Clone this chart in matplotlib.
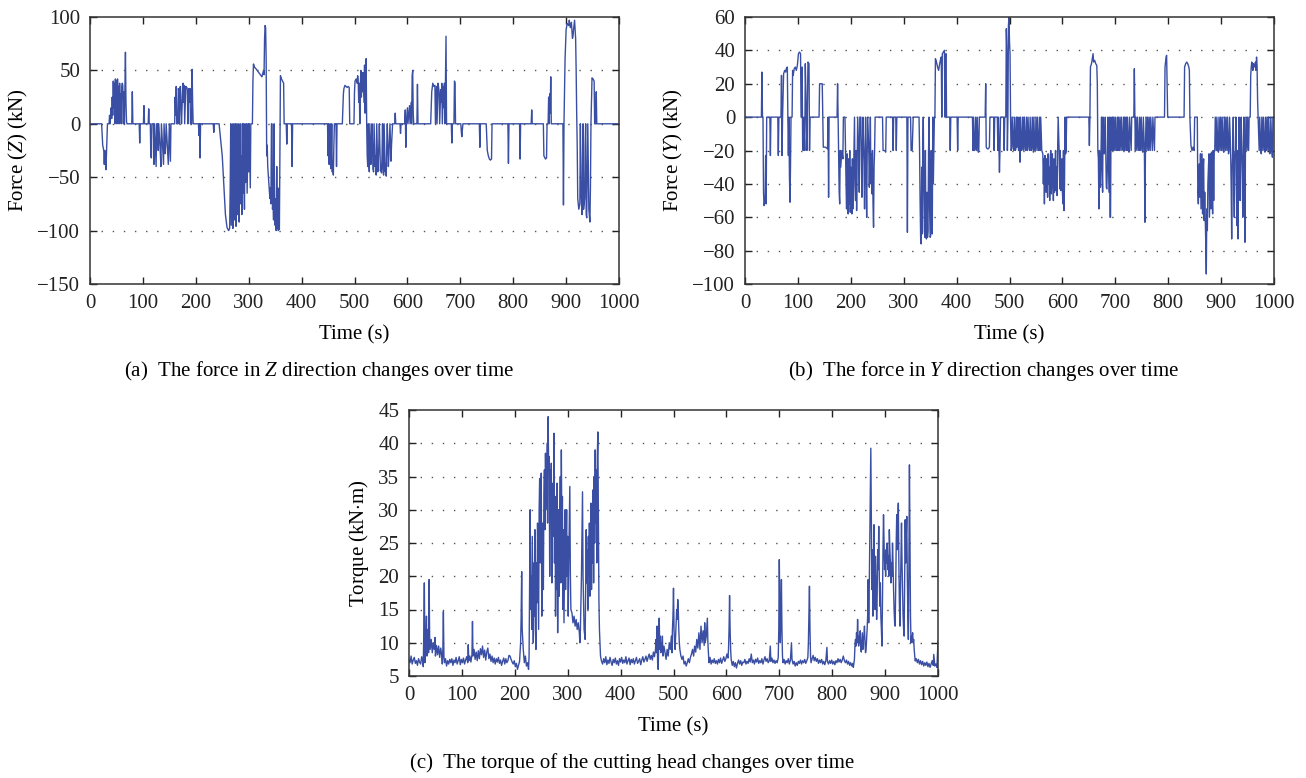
import numpy as np
import matplotlib
matplotlib.use("Agg")
import matplotlib.pyplot as plt

# force in Z direction (time s, kN)
force_z = [
    (0, 0), (22, 0), (24, -20), (26, -25), (27, -38), (28, -25), (30, -43), (31, -30), (33, 0), (36, 0),
    (37, 8), (38, 0), (40, 15), (41, 5), (42, 25), (43, 8), (44, 40), (45, 15), (46, 38), (47, 0),
    (48, 42), (49, 20), (50, 40), (51, 0), (52, 42), (53, 25), (54, 35), (55, 0), (56, 38), (57, 15),
    (58, 28), (59, 0), (60, 35), (61, 38), (62, 36), (63, 0), (64, 30), (65, 0), (66, 35), (67, 67),
    (68, 20), (69, 2), (70, 0), (79, 0), (80, 30), (81, 0), (93, 0), (94, -18), (95, 0), (101, 0),
    (102, 17), (103, 0), (110, 0), (111, 14), (112, 0), (114, 0), (115, -30), (116, -32), (117, 0), (120, 0),
    (121, -38), (122, 0), (125, -40), (126, 0), (128, 0), (129, -25), (130, 0), (133, -28), (134, -40), (135, 0),
    (138, -30), (139, -38), (140, 0), (142, -28), (143, -20), (144, 0), (147, -30), (148, -38), (149, -20), (150, 0),
    (152, -35), (153, 0), (160, 0), (161, 25), (162, 8), (163, 35), (164, 0), (166, 0), (167, 33), (168, 30),
    (169, 0), (170, 34), (171, 35), (172, 15), (173, 0), (175, 30), (176, 38), (177, 20), (178, 36), (179, 0),
    (181, 35), (183, 34), (184, 32), (185, 0), (186, 30), (187, 33), (188, 20), (189, 33), (190, 0), (192, 0),
    (193, 51), (194, 20), (195, 0), (205, 0), (206, -11), (207, 0), (208, -32), (209, 0), (233, 0), (234, -8),
    (235, 0), (244, 0), (250, -30), (256, -85), (259, -97), (262, -100), (264, -98), (265, -60), (266, 0), (267, -95),
    (268, -50), (269, 0), (270, -98), (271, -20), (272, 0), (273, -90), (274, -60), (275, 0), (276, -96), (277, -30),
    (278, 0), (279, -85), (280, -40), (281, 0), (282, -92), (283, -10), (284, 0), (285, -75), (286, -30), (287, -85),
    (288, 0), (289, -65), (290, 0), (291, -50), (292, -80), (293, 0), (294, -55), (295, -20), (296, 0), (297, -65),
    (298, -30), (299, 0), (300, -45), (301, 0), (303, -60), (304, 0), (307, 0), (308, 40), (309, 56), (311, 53),
    (313, 52), (316, 50), (319, 48), (322, 46), (325, 44), (327, 48), (328, 50), (329, 46), (330, 80), (331, 92),
    (332, 90), (333, 60), (334, -30), (335, -20), (336, -40), (338, -55), (340, -70), (341, -60), (342, -75), (343, 0),
    (344, 0), (345, -80), (346, -70), (347, -90), (348, 0), (349, -85), (350, -95), (351, -70), (352, -100), (353, -40),
    (354, -98), (355, -60), (356, -100), (357, -90), (358, -99), (359, -30), (360, 45), (362, 42), (364, 40), (366, 38),
    (367, 0), (371, 0), (372, -19), (373, 0), (381, 0), (382, -40), (383, 0), (449, 0), (450, -30), (451, 0),
    (452, -38), (453, -25), (454, 0), (455, -42), (456, -30), (457, 0), (458, -45), (459, -35), (460, -48), (461, -20),
    (462, 0), (465, 0), (466, -40), (467, 0), (477, 0), (479, 28), (480, 33), (482, 36), (484, 35), (486, 34),
    (488, 35), (490, 34), (491, 0), (499, 0), (500, 30), (501, 40), (503, 42), (505, 38), (506, 45), (507, 40),
    (508, 20), (509, 38), (510, 0), (511, 35), (512, 50), (513, 25), (514, 45), (515, 30), (516, 48), (517, 35),
    (518, 20), (519, 55), (520, 10), (521, 40), (522, 61), (523, 0), (524, -30), (525, -40), (526, 0), (527, -35),
    (528, -45), (529, 0), (531, -38), (532, -15), (533, 0), (535, -42), (536, -45), (537, 0), (539, -40), (540, -30),
    (541, -48), (542, 0), (544, -45), (545, -35), (546, -20), (547, 0), (549, -44), (550, -40), (551, -46), (552, -30),
    (553, 0), (554, -42), (555, -48), (556, 0), (558, -45), (559, -38), (560, -49), (561, -20), (562, 0), (564, -40),
    (565, -30), (566, -15), (567, 0), (569, -35), (570, -20), (571, -10), (572, 0), (576, 0), (577, 10), (578, 0),
    (586, 0), (587, -9), (588, 0), (595, 0), (596, 13), (597, -22), (598, 0), (600, 15), (601, 0), (604, 17),
    (605, 0), (607, 20), (608, 0), (609, 45), (610, 50), (611, 10), (612, 0), (618, 0), (619, 37), (620, 0),
    (644, 0), (646, 30), (648, 38), (650, 35), (652, 36), (653, 0), (655, 35), (656, 0), (658, 38), (660, 30),
    (661, 0), (663, 32), (664, 20), (665, 38), (666, 0), (668, 35), (669, 15), (670, 38), (671, 0), (672, 45),
    (673, 82), (674, 0), (683, 0), (684, -18), (685, 0), (688, 0), (689, 40), (690, 38), (691, 0), (701, 0),
    (702, -8), (703, -12), (704, -5), (705, 0), (736, 0), (737, -22), (738, 0), (749, 0), (751, -25), (753, -30),
    (755, -33), (757, -34), (759, -33), (760, 0), (790, 0), (791, -37), (792, 0), (812, 0), (813, -33), (814, 0),
    (834, 0), (835, 13), (836, 0), (857, 0), (858, -30), (861, -33), (863, -32), (864, 0), (866, 0), (867, 25),
    (868, 0), (869, 28), (870, 10), (871, 44), (872, 0), (894, 0), (895, -76), (896, 0), (898, 60), (900, 88),
    (902, 94), (905, 92), (906, 97), (908, 90), (910, 95), (912, 80), (913, 82), (914, 88), (916, 97), (918, 80),
    (919, 50), (920, 10), (921, -20), (922, -70), (924, -80), (926, -75), (927, 0), (928, -60), (930, -85), (931, -30),
    (932, 0), (933, -80), (935, -70), (936, -20), (937, 0), (938, -85), (939, -88), (940, -40), (941, 0), (943, -80),
    (945, -92), (946, -60), (947, 0), (949, 43), (951, 42), (953, 40), (954, 0), (956, 0), (957, 30), (958, 0),
    (1000, 0),
]

# force in Y direction (time s, kN)
force_y = [
    (0, 0), (31, 0), (32, 27), (33, 0), (34, 0), (35, -45), (36, -53), (38, -50), (39, -23), (40, -52),
    (41, 0), (47, 0), (48, -23), (49, 0), (62, 0), (63, -23), (64, 0), (68, 0), (69, 25), (70, -23),
    (71, 0), (73, 26), (75, 28), (77, 27), (78, 29), (80, 30), (81, 0), (82, -23), (83, 0), (84, -35),
    (85, -51), (86, -30), (87, 0), (89, 0), (90, 28), (91, 25), (93, 29), (95, 30), (97, 28), (99, 31),
    (101, 38), (103, 39), (105, 38), (106, 0), (108, 30), (109, -19), (110, -20), (111, 0), (113, -20), (114, 32),
    (116, 0), (117, -20), (119, 33), (121, 32), (122, -20), (123, 0), (140, 0), (141, 20), (143, 20), (146, 20),
    (147, 0), (148, -18), (152, -18), (156, -19), (157, 0), (158, -48), (159, 0), (174, 0), (175, 20), (176, 0),
    (178, -45), (179, -52), (180, -20), (181, -30), (183, -20), (185, -25), (186, 0), (189, 0), (190, -21), (191, -40),
    (192, -55), (193, -22), (194, -45), (195, -58), (196, -25), (197, -52), (198, -20), (199, -57), (200, -30), (201, -46),
    (202, -58), (203, -25), (204, -55), (205, -40), (206, -20), (207, 0), (208, -42), (209, -50), (210, -20), (211, -56),
    (212, -25), (213, 0), (215, -22), (216, -45), (217, 0), (219, 0), (220, -22), (221, -48), (222, -20), (223, 0),
    (225, -30), (226, -55), (227, -20), (228, 0), (229, -38), (230, -60), (231, -22), (232, 0), (234, -20), (235, -42),
    (236, -25), (237, 0), (238, -40), (239, -22), (240, -46), (241, -20), (242, -52), (243, -66), (244, -30), (245, -20),
    (246, 0), (260, 0), (261, -20), (264, -20), (266, -21), (267, 0), (279, 0), (280, -20), (281, 0), (285, 0),
    (286, -20), (287, 0), (306, 0), (307, -69), (308, 0), (313, 0), (314, -20), (316, -20), (318, 0), (329, 0),
    (330, -20), (331, -50), (332, -72), (333, -76), (334, -30), (335, -70), (336, -20), (337, 0), (338, -40), (339, -68),
    (340, -72), (341, -20), (342, -71), (343, -73), (344, -45), (345, -72), (346, -68), (347, -20), (348, 0), (349, -55),
    (350, -72), (351, -71), (352, -20), (353, -60), (354, -70), (355, 0), (356, -40), (357, -20), (358, 0), (359, 0),
    (360, 35), (362, 33), (364, 30), (366, 28), (368, 32), (370, 35), (371, 36), (372, 0), (373, 38), (375, 39),
    (377, 40), (378, 0), (379, 36), (380, 38), (381, 0), (387, 0), (388, -20), (389, 0), (401, 0), (402, -20),
    (403, 0), (430, 0), (431, -20), (432, 0), (434, -20), (435, -19), (436, 0), (438, -20), (439, 0), (441, -21),
    (442, -20), (443, 0), (454, 0), (455, 20), (456, -18), (458, -19), (460, -19), (462, -18), (463, 0), (470, 0),
    (471, -20), (472, 0), (477, 0), (478, -20), (479, 0), (481, -33), (482, -20), (483, 0), (489, 0), (490, -20),
    (491, 0), (493, 0), (494, 53), (495, 40), (496, -20), (497, 0), (498, 55), (499, 60), (500, 45), (501, 38),
    (502, 0), (503, -20), (504, -19), (505, 0), (507, -18), (508, -20), (509, 0), (511, -20), (512, -19), (513, 0),
    (514, -18), (515, 0), (517, -20), (518, 0), (519, -19), (520, -27), (521, 0), (523, -20), (524, -18), (525, 0),
    (527, -20), (528, 0), (530, -19), (531, -20), (532, 0), (534, -20), (535, 0), (537, -18), (538, -20), (539, 0),
    (541, -20), (542, -19), (543, 0), (545, -21), (546, 0), (548, -20), (549, -19), (550, 0), (552, -20), (553, 0),
    (555, -20), (556, -19), (557, 0), (558, -20), (559, 0), (561, -20), (562, -21), (563, -22), (564, -40), (565, -25),
    (566, -52), (567, -23), (568, -30), (569, -45), (570, -25), (571, -35), (572, -48), (573, -22), (574, -40), (575, -30),
    (576, -50), (577, -24), (578, -20), (579, -46), (580, -35), (581, -22), (582, -40), (583, -50), (584, -25), (585, -45),
    (586, -38), (587, -20), (588, -44), (589, -30), (590, -47), (591, -20), (592, 0), (594, -22), (595, -43), (596, -20),
    (597, -44), (598, -30), (599, -25), (600, -45), (601, -52), (602, -20), (603, -56), (604, -40), (605, 0), (606, -22),
    (607, -20), (608, 0), (650, 0), (651, -17), (652, 0), (653, 30), (655, 32), (657, 36), (658, 38), (659, 33),
    (661, 34), (663, 32), (665, 31), (666, 20), (667, -20), (668, -25), (669, -55), (670, -20), (671, -40), (672, -42),
    (673, -20), (674, 0), (675, -30), (676, -45), (677, 0), (679, -22), (680, -20), (681, 0), (683, -42), (684, -43),
    (685, -30), (686, 0), (687, -22), (688, -45), (689, 0), (690, -60), (691, -60), (692, 0), (694, -20), (695, 0),
    (696, -20), (697, 0), (699, -20), (700, 0), (702, -20), (703, -19), (704, 0), (705, -20), (706, 0), (708, -20),
    (709, 0), (711, -20), (712, 0), (714, -19), (715, -20), (716, 0), (717, -20), (718, 0), (720, -20), (721, 0),
    (722, -20), (723, 0), (725, -20), (726, -21), (727, 0), (730, -20), (731, 0), (735, 0), (736, 29), (737, 0),
    (738, -20), (739, 0), (741, -20), (742, 0), (744, -19), (745, -20), (746, 0), (748, -20), (749, 0), (751, -20),
    (752, -21), (753, 0), (755, -20), (756, -63), (757, -20), (758, 0), (760, -20), (761, 0), (763, -20), (764, 0),
    (766, -20), (767, 0), (770, -20), (771, 0), (774, -20), (775, 0), (793, 0), (794, 30), (796, 36), (797, 37),
    (798, 20), (799, 0), (830, 0), (831, 30), (833, 32), (835, 33), (837, 32), (839, 30), (840, 28), (841, 0),
    (843, -17), (845, -20), (847, -18), (849, -20), (850, 0), (855, 0), (856, -45), (857, -52), (858, -35), (859, -28),
    (860, -48), (861, -22), (862, -55), (863, -40), (864, -22), (865, -58), (866, -30), (867, -25), (868, -62), (869, -45),
    (870, -60), (871, -75), (872, -94), (873, -55), (874, -68), (875, -40), (876, -30), (877, -22), (878, -60), (879, -40),
    (880, -22), (881, -55), (882, -21), (883, -45), (884, -58), (885, -20), (886, -50), (887, -21), (888, -20), (889, 0),
    (891, -20), (892, 0), (894, -20), (895, -21), (896, 0), (898, -20), (899, 0), (901, -20), (902, 0), (904, -20),
    (905, -21), (906, 0), (908, -20), (909, 0), (911, -20), (912, 0), (914, -22), (915, -20), (916, 0), (918, -20),
    (919, -40), (920, -73), (921, -30), (922, -20), (923, 0), (924, -45), (925, -60), (926, -22), (927, -20), (928, 0),
    (929, -40), (930, -65), (931, -20), (932, -73), (933, -30), (934, 0), (936, -50), (937, -20), (938, 0), (940, -35),
    (941, -60), (942, -22), (943, 0), (944, -40), (945, -75), (946, -20), (947, 0), (949, -20), (950, 0), (952, -20),
    (953, 0), (955, 0), (956, 25), (957, 30), (958, 33), (960, 28), (961, 32), (963, 30), (965, 33), (966, 28),
    (967, 36), (968, 31), (969, 10), (970, 0), (972, -20), (973, 0), (975, -20), (976, -22), (977, 0), (979, -20),
    (980, 0), (982, -20), (983, -21), (984, 0), (986, -20), (987, 0), (989, -20), (990, 0), (992, -22), (993, -20),
    (994, 0), (996, -20), (997, -24), (998, 0), (1000, 0),
]

# torque of the cutting head (time s, kN.m)
torque = [
    (0, 7.5), (2, 7.0), (4, 8.0), (6, 6.8), (8, 7.4), (10, 7.8), (12, 6.9), (14, 7.3), (16, 6.6), (18, 7.6),
    (20, 7.1), (22, 6.8), (24, 7.9), (26, 7.2), (27, 6.4), (28, 12), (29, 19), (30, 7), (31, 9), (32, 11),
    (33, 14), (34, 8), (35, 10.5), (36, 12), (37, 8.5), (38, 19.5), (39, 11), (40, 9), (42, 10.5), (44, 8.5),
    (46, 10), (48, 9), (49, 10.8), (50, 8), (52, 9.6), (54, 8.2), (56, 9.5), (58, 7.8), (60, 9.2), (62, 8),
    (63, 6.8), (64, 9), (65, 14.7), (66, 8), (67, 7), (69, 7.6), (71, 6.5), (73, 7.3), (75, 6.8), (77, 7.5),
    (79, 7.0), (81, 7.6), (83, 6.6), (85, 7.4), (87, 7.0), (89, 7.8), (91, 6.8), (93, 7.3), (95, 7.9), (97, 6.7),
    (99, 7.5), (101, 7.0), (103, 7.7), (105, 6.8), (107, 7.4), (109, 7.9), (111, 7.0), (112, 9.7), (113, 7.3), (115, 8),
    (117, 7.1), (119, 8.2), (120, 13.2), (121, 8), (123, 9), (125, 7.5), (127, 8.6), (129, 7.3), (131, 8.8), (133, 7.6),
    (135, 9.1), (137, 8.2), (139, 9.5), (141, 7.8), (143, 8.9), (145, 7.4), (147, 8.6), (149, 9.2), (151, 7.6), (153, 8.3),
    (155, 7.2), (157, 8.0), (159, 7.0), (161, 7.7), (163, 6.8), (165, 7.6), (167, 7.1), (169, 7.8), (171, 6.9), (173, 7.4),
    (175, 6.6), (177, 7.2), (179, 7.7), (181, 6.8), (183, 7.6), (185, 7.0), (187, 7.3), (189, 8.1), (191, 8.0), (193, 7.5),
    (195, 7.1), (197, 6.8), (199, 7.3), (201, 6.4), (203, 6.9), (205, 6.0), (207, 6.6), (209, 7.2), (211, 10), (212, 14),
    (213, 20.7), (214, 12), (216, 9), (218, 7), (220, 8), (222, 6.5), (224, 7), (226, 6), (227, 8), (228, 18),
    (229, 30), (230, 15), (231, 20), (232, 12), (233, 26), (234, 18), (235, 10), (236, 22), (237, 14), (238, 27),
    (239, 12), (240, 9), (241, 22), (242, 16), (243, 28), (244, 20), (245, 12), (246, 30), (247, 34.7), (248, 22),
    (249, 30), (250, 35.5), (251, 14), (252, 20), (253, 28), (254, 18), (255, 32), (256, 36), (257, 27), (258, 38.5),
    (259, 30), (260, 35), (261, 40), (262, 28), (263, 44), (264, 36), (265, 38), (266, 20), (267, 36), (268, 30),
    (269, 37), (270, 19), (271, 28), (272, 34), (273, 26), (274, 41.5), (275, 22), (276, 32), (277, 14), (278, 26),
    (279, 18), (280, 34), (281, 11.5), (282, 22), (283, 30), (284, 17), (285, 28), (286, 35), (287, 19), (288, 39),
    (289, 25), (290, 32), (291, 15), (292, 27), (293, 13), (294, 22), (295, 30), (296, 18), (297, 25), (298, 30),
    (299, 20), (300, 26), (301, 14), (302, 22), (303, 28), (304, 33.5), (305, 20.5), (306, 15), (308, 14.5), (310, 13),
    (312, 14), (314, 12.5), (316, 13.5), (318, 12), (320, 13), (322, 11.5), (323, 10), (324, 12), (326, 20), (327, 27),
    (328, 32.7), (329, 20), (330, 16), (331, 12), (333, 10.5), (334, 18), (335, 27), (336, 19), (337, 24), (338, 15),
    (339, 26), (340, 20), (341, 28), (342, 17), (343, 25), (344, 31), (345, 18), (346, 27), (347, 22), (348, 33),
    (349, 19), (350, 35), (351, 25), (352, 39), (353, 28), (354, 36), (355, 22), (356, 38), (357, 41.7), (358, 30),
    (359, 16.5), (360, 12), (362, 8), (364, 7.2), (366, 6.8), (368, 7.6), (370, 7.0), (372, 7.9), (374, 6.7), (376, 7.4),
    (378, 6.9), (380, 7.8), (382, 7.1), (384, 6.6), (386, 7.5), (388, 7.0), (390, 7.7), (392, 6.8), (394, 7.3), (396, 6.6),
    (398, 7.6), (400, 7.1), (402, 7.8), (404, 6.9), (406, 7.4), (408, 7.0), (410, 7.9), (412, 6.8), (414, 7.3), (416, 7.7),
    (418, 6.7), (420, 7.5), (422, 7.0), (424, 7.6), (426, 6.8), (428, 7.3), (430, 7.8), (432, 6.9), (434, 7.2), (436, 7.6),
    (438, 6.7), (440, 7.4), (442, 7.9), (444, 7.1), (446, 7.5), (448, 8.0), (450, 7.2), (452, 7.8), (454, 8.3), (456, 7.5),
    (458, 8.1), (460, 7.4), (462, 8.6), (464, 7.9), (466, 9), (467, 10.5), (468, 8.5), (469, 12.5), (470, 7), (471, 6),
    (472, 10), (473, 13.7), (474, 9), (475, 11), (476, 8.5), (477, 10), (478, 9), (479, 11), (480, 8), (482, 9.5),
    (484, 8.5), (486, 7.5), (488, 9), (490, 8), (492, 10), (494, 9), (496, 11), (497, 8.5), (498, 12), (499, 14),
    (500, 18.2), (501, 12), (502, 10), (503, 9), (504, 11), (505, 13), (506, 15), (507, 13.5), (508, 16.5), (509, 15),
    (510, 12), (511, 10), (512, 9), (514, 8), (516, 7.5), (518, 8), (520, 6.8), (522, 7.2), (524, 6.5), (526, 7.0),
    (528, 7.6), (530, 7.0), (532, 7.8), (534, 8.3), (536, 9), (538, 8), (540, 9.5), (542, 8.6), (544, 10.5), (546, 9.2),
    (548, 11.5), (550, 9), (552, 12.5), (554, 10), (556, 11.8), (558, 9.6), (559, 13), (560, 10), (562, 11), (564, 13.7),
    (565, 10), (566, 8.5), (567, 7), (569, 7.8), (571, 6.8), (573, 7.4), (575, 7.0), (577, 7.6), (579, 6.9), (581, 7.3),
    (583, 6.8), (585, 7.5), (587, 7.0), (589, 7.7), (591, 6.9), (593, 7.4), (595, 7.9), (597, 7.2), (599, 7.6), (601, 8.3),
    (603, 7.7), (604, 9), (605, 12), (606, 17.1), (607, 12), (608, 9), (609, 7.5), (611, 6.6), (613, 7.2), (615, 6.4),
    (617, 7.0), (619, 6.2), (621, 6.9), (623, 7.4), (625, 6.8), (627, 7.3), (629, 6.6), (631, 7.1), (633, 7.0), (635, 7.5),
    (637, 6.8), (639, 7.2), (641, 6.9), (643, 7.6), (645, 7.1), (647, 8.3), (649, 7.0), (651, 7.4), (653, 6.8), (655, 7.5),
    (657, 7.1), (659, 7.7), (661, 6.9), (663, 7.3), (665, 7.0), (667, 7.6), (669, 6.8), (671, 7.4), (673, 7.9), (675, 7.2),
    (677, 7.6), (679, 7.0), (681, 7.3), (683, 9.5), (684, 7.2), (686, 7.7), (688, 7.0), (690, 7.4), (692, 6.9), (694, 7.3),
    (696, 7.0), (698, 7.8), (699, 12), (700, 22.5), (701, 15), (702, 10), (703, 14), (704, 19.5), (705, 12), (706, 8),
    (707, 7.0), (709, 7.5), (711, 6.8), (713, 7.3), (715, 7.0), (717, 7.6), (719, 6.8), (721, 7.4), (723, 10), (724, 7.5),
    (726, 6.8), (728, 7.2), (730, 6.5), (732, 7.0), (734, 6.6), (736, 7.2), (738, 6.9), (740, 7.4), (742, 6.8), (744, 7.3),
    (746, 7.0), (748, 7.5), (750, 6.9), (752, 7.3), (754, 7.8), (755, 10), (756, 14), (757, 18.5), (758, 12), (759, 8),
    (760, 7.0), (762, 7.6), (764, 8.1), (766, 7.3), (768, 7.8), (770, 7.2), (772, 7.6), (774, 6.9), (776, 7.4), (778, 7.0),
    (780, 7.5), (782, 6.8), (784, 7.2), (786, 6.7), (788, 7.3), (790, 9.3), (791, 7.2), (793, 6.8), (795, 7.3), (797, 6.9),
    (799, 7.4), (801, 6.8), (803, 7.2), (805, 6.7), (807, 7.3), (809, 7.0), (811, 7.6), (813, 7.1), (815, 7.5), (817, 7.0),
    (819, 7.4), (821, 8.0), (823, 7.3), (825, 7.0), (827, 7.4), (829, 6.8), (831, 7.2), (833, 6.6), (835, 7.0), (837, 6.5),
    (839, 6.9), (840, 6.3), (842, 7.5), (843, 9.5), (844, 10.5), (845, 9.5), (846, 11.5), (847, 10), (848, 13.5), (849, 10.5),
    (850, 9.5), (851, 11), (852, 10), (853, 11.8), (854, 9.2), (855, 8.6), (856, 10.2), (857, 11.5), (858, 9), (859, 10.5),
    (860, 11), (861, 12.5), (862, 10), (863, 8.5), (864, 9), (866, 12), (867, 14), (868, 19.5), (869, 13), (870, 18),
    (871, 25), (872, 33), (873, 39.25), (874, 28), (875, 18), (876, 24), (877, 14), (878, 22), (879, 27.75), (880, 20),
    (881, 15), (882, 23), (883, 18), (884, 13.5), (885, 17), (886, 24), (887, 21), (888, 27.5), (889, 20), (890, 15.5),
    (891, 19), (892, 14), (893, 12), (894, 9.5), (895, 16), (896, 24), (897, 29.25), (898, 25), (899, 21), (900, 23),
    (901, 20), (902, 24), (903, 22), (904, 25), (905, 21), (906, 23), (907, 20), (908, 27), (909, 24), (910, 22),
    (911, 19), (912, 22), (913, 20), (914, 25), (915, 22), (916, 18), (917, 15), (918, 13), (919, 12.5), (920, 18),
    (921, 25), (922, 29.25), (923, 24), (924, 28), (925, 31), (926, 22), (927, 16), (928, 12.5), (929, 18), (930, 24),
    (931, 28), (932, 22), (933, 18), (934, 14), (935, 12), (936, 11), (937, 20), (938, 28.5), (939, 22), (940, 26),
    (941, 29), (942, 20), (943, 14), (944, 10.5), (945, 22), (946, 36.75), (947, 25), (948, 14), (949, 10), (950, 11),
    (951, 10.5), (952, 11.5), (953, 10), (954, 10.5), (955, 9), (956, 8), (957, 7.25), (959, 7.6), (961, 7.0), (963, 7.5),
    (965, 6.8), (967, 7.3), (969, 6.7), (971, 7.2), (973, 6.5), (975, 7.0), (977, 6.6), (979, 7.1), (981, 6.4), (983, 6.9),
    (985, 6.3), (987, 6.8), (989, 7.3), (991, 6.6), (992, 8.25), (994, 6.5), (996, 6.8), (998, 6.3), (1000, 10.25),
]

plt.rcParams['font.family'] = ['Liberation Serif', 'DejaVu Serif']
plt.rcParams['mathtext.fontset'] = 'custom'
plt.rcParams['mathtext.rm'] = 'Liberation Serif'
plt.rcParams['mathtext.it'] = 'Liberation Serif:italic'

LINE = '#3a4fa3'
FS = 15

fig = plt.figure(figsize=(13.06, 7.78), dpi=100)
W, H = 1306.0, 778.0


def make_ax(left, top, right, bottom):
    return fig.add_axes([left / W, 1 - bottom / H, (right - left) / W, (bottom - top) / H])


def style(ax, ylim, yticks):
    ax.set_xlim(0, 1000)
    ax.set_ylim(*ylim)
    ax.set_xticks(np.arange(0, 1001, 100))
    ax.set_yticks(yticks)
    ax.tick_params(direction='in', top=True, right=True, length=5, width=1,
                   labelsize=FS, pad=7, colors='#222222')
    for s in ax.spines.values():
        s.set_linewidth(1.1)
        s.set_color('#333333')
    inner = [v for v in yticks if ylim[0] < v < ylim[1]]
    for v in inner:
        ax.axhline(v, color='#555555', lw=1.0, ls=(0, (1, 7)), zorder=0)
    ax.set_xlabel('Time (s)', fontsize=FS, labelpad=9)


ax1 = make_ax(90, 17, 619, 284)
t, v = np.array(force_z).T
ax1.plot(t, v, color=LINE, lw=1.0)
style(ax1, (-150, 100), np.arange(-150, 101, 50))
ax1.set_ylabel('Force ($Z$) (kN)', fontsize=FS, labelpad=5)

ax2 = make_ax(745, 17, 1274, 284)
t, v = np.array(force_y).T
ax2.plot(t, v, color=LINE, lw=1.0)
style(ax2, (-100, 60), np.arange(-100, 61, 20))
ax2.set_ylabel('Force ($Y$) (kN)', fontsize=FS, labelpad=5)

ax3 = make_ax(409, 410, 938, 676)
t, v = np.array(torque).T
ax3.plot(t, v, color=LINE, lw=1.0)
style(ax3, (5, 45), np.arange(5, 46, 5))
ax3.set_ylabel('Torque (kN$\\cdot$m)', fontsize=FS, labelpad=5)

fig.text(319 / W, 1 - 371 / H, '(a)  The force in $Z$ direction changes over time',
         ha='center', va='center', fontsize=FS)
fig.text(984 / W, 1 - 371 / H, '(b)  The force in $Y$ direction changes over time',
         ha='center', va='center', fontsize=FS)
fig.text(632 / W, 1 - 763 / H, '(c)  The torque of the cutting head changes over time',
         ha='center', va='center', fontsize=FS)

fig.savefig('out.png', dpi=100)
